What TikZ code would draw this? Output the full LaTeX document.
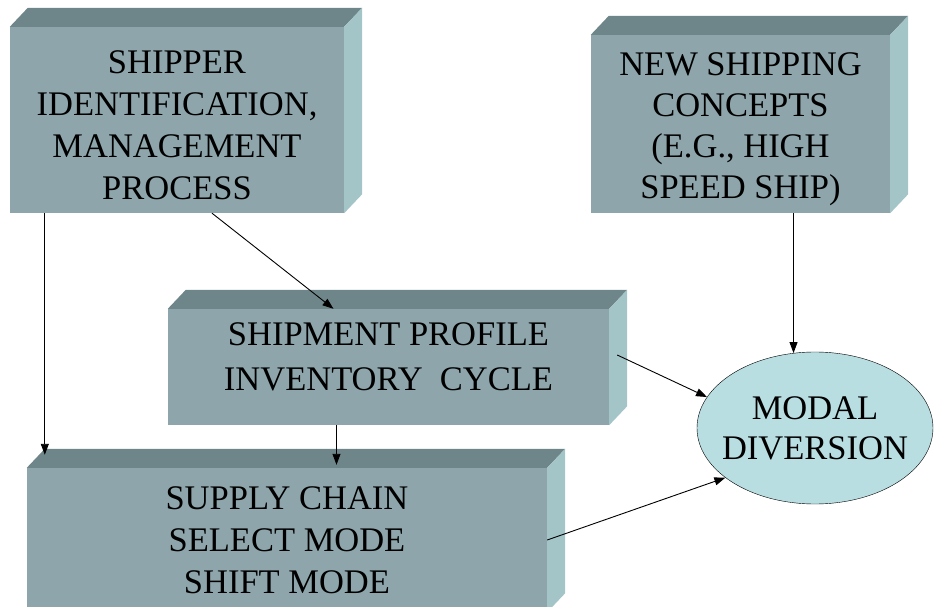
\documentclass[tikz,border=0pt]{standalone}
\usepackage{fontspec}
\setmainfont{Liberation Serif}
\usepackage{xcolor}
\definecolor{boxfront}{RGB}{142,166,171}
\definecolor{boxtop}{RGB}{110,134,137}
\definecolor{boxside}{RGB}{164,197,200}
\definecolor{modalfill}{RGB}{184,222,226}
\usepackage{tikz}
\usetikzlibrary{arrows.meta}
\usetikzlibrary{shapes.geometric}
\tikzset{
  slab/.style={fill=boxfront, inner sep=0pt, align=center,
    font=\fontsize{34.5}{42}\selectfont},
  arr/.style={-{Triangle[length=11pt,width=8pt]}, line width=0.9pt}
}

\begin{document}
\begin{tikzpicture}[x=1pt,y=1pt]
      \useasboundingbox (0,0) rectangle (935,606);
      \node[slab, minimum width=334pt, minimum height=186pt, text height=159pt]
        (shipper) at (177,486)
        {SHIPPER\\IDENTIFICATION,\\MANAGEMENT\\PROCESS};
      \node[slab, minimum width=299pt, minimum height=178pt, text height=156pt,
        font=\fontsize{34.5}{41}\selectfont] (concepts) at (740.5,482)
        {NEW SHIPPING\\CONCEPTS\\(E.G., HIGH\\SPEED SHIP)};
      \node[slab, minimum width=441pt, minimum height=116pt, text depth=20pt,
        font=\fontsize{34.5}{45}\selectfont] (profile) at (388.5,239)
        {SHIPMENT PROFILE\\INVENTORY\ \ CYCLE};
      \node[slab, minimum width=520pt, minimum height=144pt] (chain) at (287,66)
        {SUPPLY CHAIN\\SELECT MODE\\SHIFT MODE};
      % top and side faces of the slabs
      \foreach \s in {shipper,concepts,profile,chain}{
        \fill[boxtop] (\s.north west) -- ++(18,19) -- ([shift={(18,19)}]\s.north east)
          -- (\s.north east) -- cycle;
        \fill[boxside] (\s.north east) -- ++(18,19) -- ([shift={(18,19)}]\s.south east)
          -- (\s.south east) -- cycle;
      }
      \node[ellipse, draw, fill=modalfill, inner ysep=0pt, inner xsep=-15pt,
        minimum width=236pt, minimum height=152pt, align=center,
        font=\fontsize{34.5}{40}\selectfont]
        (modal) at (815,178) {MODAL\\DIVERSION};
      \draw[arr] ([xshift=35pt]shipper.south west)
        -- ([xshift=35pt,yshift=13pt]shipper.south west |- chain.north);
      \draw[arr] ([xshift=35pt]shipper.south) -- ([xshift=-55pt]profile.north);
      \draw[arr] ([xshift=-52pt]profile.south) -- ([xshift=-52pt,yshift=3pt]profile.south |- chain.north);
      \draw[arr] (concepts.south -| modal.106) -- (modal.106);
      \draw[arr] ([xshift=8pt,yshift=12pt]profile.east) -- (modal.164);
      \draw[arr] (chain.east) -- (modal.209);
    \end{tikzpicture}
\end{document}
